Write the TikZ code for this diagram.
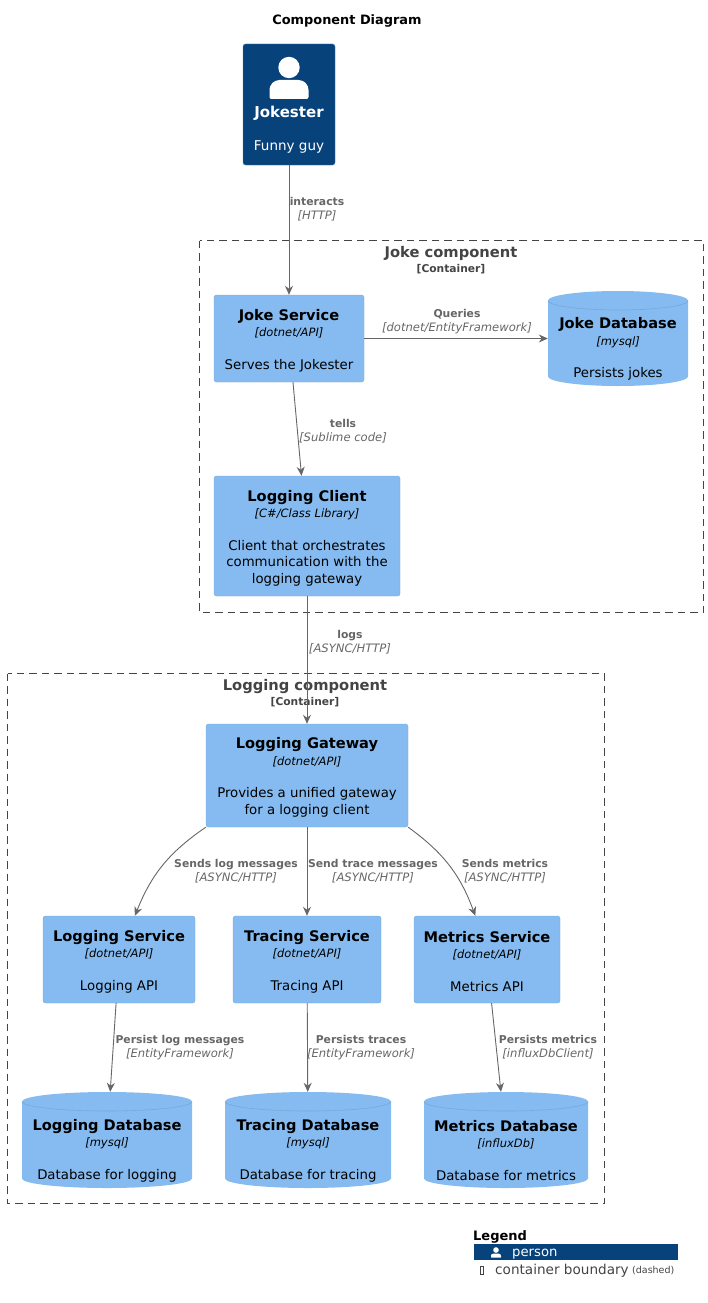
\documentclass[tikz,border=0pt]{standalone}
\usepackage{fontspec}
\setmainfont{DejaVu Sans}
\usetikzlibrary{calc,arrows.meta}
\definecolor{compblue}{HTML}{85BBF0}
\definecolor{compedge}{HTML}{78A8D8}
\definecolor{persondark}{HTML}{08427B}
\definecolor{relgray}{HTML}{666666}
\definecolor{boundgray}{HTML}{444444}
\newcommand{\comptext}[3]{\rule{0pt}{15pt}{\fontsize{14.6}{16}\selectfont\bfseries #1}\\{\fontsize{11.5}{16}\selectfont\itshape [#2]}\\[16pt]#3}
\newcommand{\dbtext}[3]{\rule{0pt}{32pt}{\fontsize{14.6}{16}\selectfont\bfseries #1}\\{\fontsize{11.5}{16}\selectfont\itshape [#2]}\\[16pt]#3}
\newcommand{\reltext}[2]{{\fontsize{10.8}{14}\selectfont\bfseries #1}\\{\fontsize{11.6}{14}\selectfont\itshape #2}}
\begin{document}
\begin{tikzpicture}[x=1pt,y=-1pt,
    component/.style={draw=compedge,fill=compblue,rounded corners=2.5pt,inner sep=0pt,align=center,font=\fontsize{13.3}{16.5}\selectfont},
    database/.style={inner sep=0pt,align=center,font=\fontsize{13.3}{16.5}\selectfont,minimum width=2*#1 pt,
      path picture={
        \path[fill=compblue] (path picture bounding box.north west) ++(0,9.5) arc[start angle=180,end angle=0,x radius=#1 pt,y radius=9.5pt]
          -- ($(path picture bounding box.south east)+(0,-9.5)$) arc[start angle=0,end angle=-180,x radius=#1 pt,y radius=9.5pt] -- cycle;
        \draw[compedge,line width=0.6pt] (path picture bounding box.north west) ++(0,9.5) arc[start angle=180,end angle=360,x radius=#1 pt,y radius=9.5pt];
      }},
    boundary/.style={draw=boundgray,dash pattern=on 7.5pt off 5pt,line width=0.8pt},
    boundtitle/.style={text=boundgray,font=\fontsize{14.7}{17}\selectfont\bfseries,inner sep=0pt},
    boundtag/.style={text=boundgray,font=\fontsize{10.7}{13}\selectfont\bfseries,inner sep=0pt},
    rel/.style={draw=relgray,line width=0.9pt,-{Stealth[length=9pt,width=8pt]}},
    rellabel/.style={text=relgray,align=center,inner sep=0pt,font=\fontsize{11}{14}\selectfont}]
    \useasboundingbox (0,0) rectangle (708,1303);
    \node[font=\fontsize{12.9}{15}\selectfont\bfseries,inner sep=0pt] (diagtitle) at (347,20.5) {Component Diagram};
    % boundaries
    \draw[boundary] (199.5,240.5) rectangle (703.5,612.5);
    \node[boundtitle] (joketitle) at (451,253.5) {Joke component};
    \node[boundtag] (joketag) at (451,269) {[Container]};
    \draw[boundary] (7.5,673.5) rectangle (604.5,1203.5);
    \node[boundtitle] (logtitle) at (305,686.5) {Logging component};
    \node[boundtag] (logtag) at (305,702) {[Container]};
    % person
    \node[fill=persondark,draw=compedge!60!persondark,rounded corners=2.5pt,minimum width=92pt,minimum height=121pt,inner sep=0pt] (jokester) at (289,104.5) {};
    \fill[white] (289,67.5) circle (10.7pt);
    \fill[white] [rounded corners=2pt] (269.5,99) -- (269.5,90) [rounded corners=10pt] -- (269.5,80) -- (308.5,80) [rounded corners=2pt] -- (308.5,99) -- cycle;
    \node[text=white,font=\fontsize{15}{17}\selectfont\bfseries,inner sep=0pt] (jokestername) at (289,113.5) {Jokester};
    \node[text=white,font=\fontsize{13.5}{15}\selectfont,inner sep=0pt] (jokesterdesc) at (289,147) {Funny guy};
    % joke component
    \node[component,minimum width=150pt,minimum height=87pt] (jokeservice) at (289,338.5) {\comptext{Joke Service}{dotnet/API}{Serves the Jokester}};
    \node[database=70,minimum height=95pt] (jokedb) at (618,338.5) {\dbtext{Joke Database}{mysql}{Persists jokes}};
    \node[component,minimum width=186pt,minimum height=120pt] (logclient) at (307,536) {\comptext{Logging Client}{C\#/Class Library}{Client that orchestrates\\communication with the\\logging gateway}};
    % logging component
    \node[component,minimum width=202pt,minimum height=103pt] (gateway) at (307,775.5) {\comptext{Logging Gateway}{dotnet/API}{Provides a unified gateway\\for a logging client}};
    \node[component,minimum width=152pt,minimum height=87pt] (logservice) at (119,959.5) {\comptext{Logging Service}{dotnet/API}{Logging API}};
    \node[component,minimum width=148pt,minimum height=87pt] (traceservice) at (307,959.5) {\comptext{Tracing Service}{dotnet/API}{Tracing API}};
    \node[component,minimum width=146pt,minimum height=87pt] (metricservice) at (487,959.5) {\comptext{Metrics Service}{dotnet/API}{Metrics API}};
    \node[database=85,minimum height=96pt] (logdb) at (107,1140) {\dbtext{Logging Database}{mysql}{Database for logging}};
    \node[database=83,minimum height=96pt] (tracedb) at (308,1140) {\dbtext{Tracing Database}{mysql}{Database for tracing}};
    \node[database=82,minimum height=96pt] (metricdb) at (506,1140) {\dbtext{Metrics Database}{influxDb}{Database for metrics}};
    % relations
    \draw[rel] (jokester) -- (jokeservice);
    \draw[rel] (jokeservice) -- (jokedb);
    \draw[rel] (jokeservice) -- (logclient);
    \draw[rel] (logclient) -- (gateway);
    \draw[rel] (gateway.south west) to[bend right=17] (logservice.70);
    \draw[rel] (gateway) -- (traceservice);
    \draw[rel] (gateway.south east) to[bend left=17] (metricservice.105);
    \draw[rel] (logservice) -- (logdb);
    \draw[rel] (traceservice) -- (tracedb);
    \draw[rel] (metricservice) -- (metricdb);
    \node[rellabel] (l1) at (317,209.5) {\reltext{interacts}{[HTTP]}};
    \node[rellabel] (l2) at (457,321.5) {\reltext{Queries}{[dotnet/EntityFramework]}};
    \node[rellabel] (l3) at (343,431.5) {\reltext{tells}{[Sublime code]}};
    \node[rellabel] (l4) at (350,642.5) {\reltext{logs}{[ASYNC/HTTP]}};
    \node[rellabel] (l5) at (236,871.5) {\reltext{Sends log messages}{[ASYNC/HTTP]}};
    \node[rellabel] (l6) at (373,871.5) {\reltext{Send trace messages}{[ASYNC/HTTP]}};
    \node[rellabel] (l7) at (505,871.5) {\reltext{Sends metrics}{[ASYNC/HTTP]}};
    \node[rellabel] (l8) at (180,1047.5) {\reltext{Persist log messages}{[EntityFramework]}};
    \node[rellabel] (l9) at (361,1047.5) {\reltext{Persists traces}{[EntityFramework]}};
    \node[rellabel] (l10) at (548,1047.5) {\reltext{Persists metrics}{[influxDbClient]}};
    % legend
    \node[anchor=west,font=\fontsize{13}{15}\selectfont\bfseries,inner sep=0pt] (legendtitle) at (473,1237) {Legend};
    \node[fill=persondark,minimum width=204pt,minimum height=16pt,inner sep=0pt] (legendband) at (576,1252) {};
    \fill[white] (496,1250) circle (2.8pt);
    \fill[white] [rounded corners=0.5pt] (491,1257.5) -- (491,1255) [rounded corners=2.5pt] -- (491,1253.5) -- (501,1253.5) [rounded corners=0.5pt] -- (501,1257.5) -- cycle;
    \node[anchor=west,text=white,font=\fontsize{13.2}{15}\selectfont,inner sep=0pt] (legendperson) at (512,1254.5) {person};
    \node[draw=boundgray,line width=0.5pt,minimum width=3pt,minimum height=8pt,inner sep=0pt] (legendglyph) at (482,1270) {};
    \node[anchor=west,text=boundgray,font=\fontsize{13.6}{15}\selectfont,inner sep=0pt] (legendbound) at (495,1270.5) {container boundary};
    \node[anchor=west,text=boundgray,font=\fontsize{9.5}{11}\selectfont,inner sep=0pt] (legenddash) at (632,1271) {(dashed)};
  \end{tikzpicture}
\end{document}
